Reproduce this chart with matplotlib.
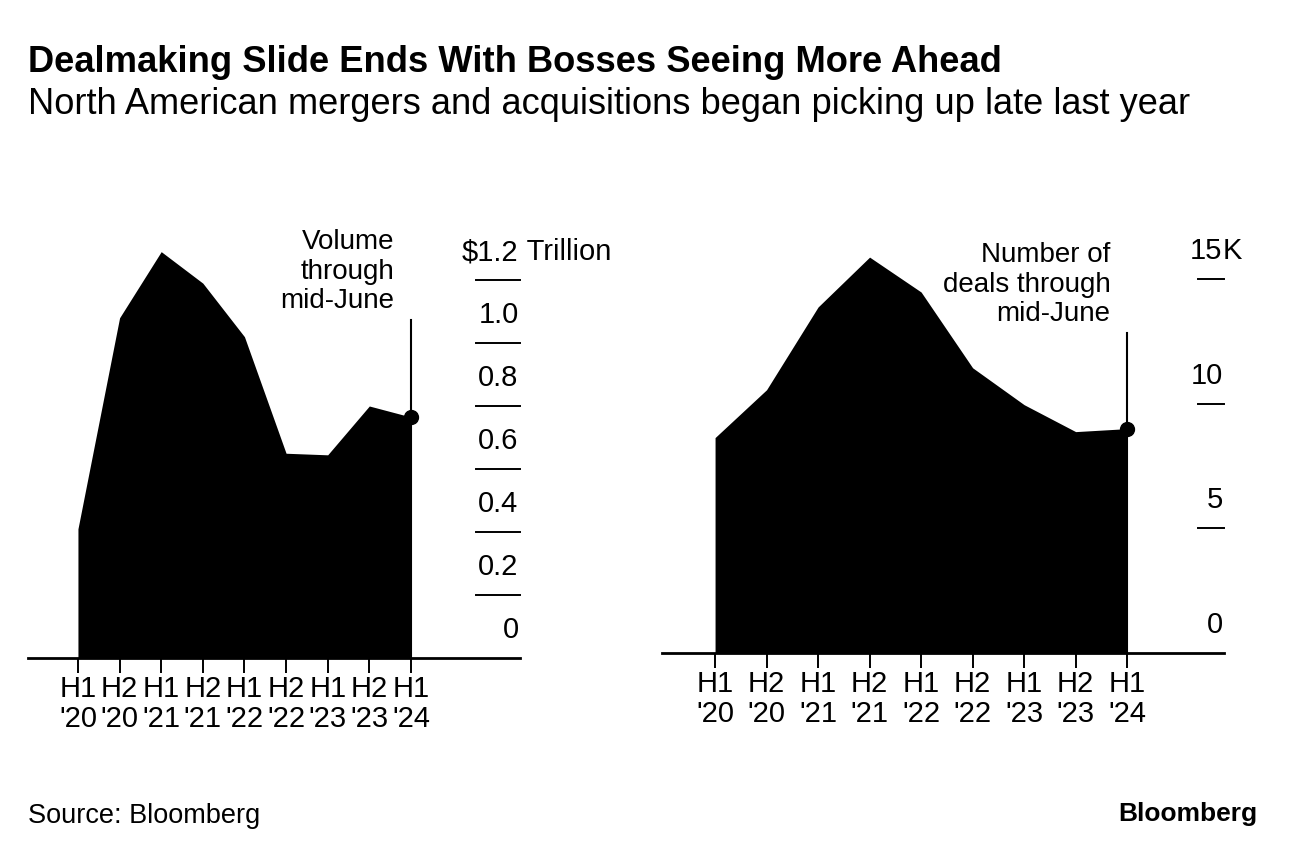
import matplotlib
matplotlib.use("Agg")
import matplotlib.pyplot as plt
import matplotlib.transforms as mtransforms

plt.rcParams['font.family'] = ['Liberation Sans', 'DejaVu Sans']

periods = ["H1\n'20", "H2\n'20", "H1\n'21", "H2\n'21", "H1\n'22", "H2\n'22", "H1\n'23", "H2\n'23", "H1\n'24"]
volume_trillion = [0.41, 1.08, 1.29, 1.19, 1.02, 0.65, 0.645, 0.80, 0.765]
deals_thousand = [8.64, 10.56, 13.88, 15.88, 14.48, 11.44, 9.96, 8.88, 9.0]

vol_ticks = [0, 0.2, 0.4, 0.6, 0.8, 1.0, 1.2]
vol_tick_labels = ["0", "0.2", "0.4", "0.6", "0.8", "1.0", "$1.2"]
deal_ticks = [0, 5, 10, 15]
deal_tick_labels = ["0", "5", "10", "15"]

title = "Dealmaking Slide Ends With Bosses Seeing More Ahead"
subtitle = "North American mergers and acquisitions began picking up late last year"

W, H = 1296, 858
fig = plt.figure(figsize=(W / 100, H / 100), dpi=100)


def px_axes(x0, x1, ybot, ytop):
    return fig.add_axes([x0 / W, (H - ybot) / H, (x1 - x0) / W, (ybot - ytop) / H])


def draw_panel(ax, values, ticks, tick_labels, unit_suffix, xlim, ylim, tick_x0, annot, line_top, fs):
    x = list(range(len(values)))
    ax.fill_between(x, 0, values, color='black', linewidth=0, zorder=2)
    ax.set_xlim(*xlim)
    ax.set_ylim(*ylim)
    for s in ax.spines.values():
        s.set_visible(False)
    ax.axhline(0, color='black', lw=2.0, zorder=3, clip_on=False)
    ax.set_yticks([])
    ax.set_xticks(x)
    ax.set_xticklabels(periods, fontsize=fs, linespacing=1.1)
    ax.tick_params(axis='x', length=11, width=1.4, color='black', pad=1)
    trans = mtransforms.blended_transform_factory(ax.transAxes, ax.transData)
    for t, lab in zip(ticks, tick_labels):
        if t != 0:
            ax.plot([tick_x0, 1.0], [t, t], transform=trans, color='black', lw=1.4, clip_on=False)
        ax.annotate(lab, xy=(1.0, t), xycoords=trans, xytext=(-1, 10), textcoords='offset points',
                    ha='right', va='bottom', fontsize=fs)
    top = ticks[-1]
    ax.annotate(unit_suffix, xy=(1.0, top), xycoords=trans, xytext=(-1, 10), textcoords='offset points',
                ha='left', va='bottom', fontsize=fs)
    last = len(values) - 1
    ax.plot([last, last], [0, line_top], color='black', lw=1.5, zorder=4, clip_on=False)
    ax.plot([last], [values[-1]], 'o', color='black', markersize=10, zorder=5, clip_on=False)
    ax.annotate(annot, xy=(last, line_top), xycoords='data', xytext=(-12, 4), textcoords='offset points',
                ha='right', va='bottom', fontsize=fs - 1, linespacing=1.18)


fs = 21
# Left panel: volume
axL = px_axes(28, 520, 658, 230)
draw_panel(axL, volume_trillion, vol_ticks, vol_tick_labels, " Trillion",
           xlim=(-1.2, 10.62), ylim=(0, (658 - 230) / 315.0), tick_x0=(476 - 28) / 492.0,
           annot="Volume\nthrough\nmid-June", line_top=(658 - 320) / 315.0, fs=fs)

# Right panel: number of deals
axR = px_axes(662, 1224, 653, 230)
draw_panel(axR, deals_thousand, deal_ticks, deal_tick_labels, "K",
           xlim=(-1.03, 9.88), ylim=(0, (653 - 230) / 24.93), tick_x0=(1198 - 662) / 562.0,
           annot="Number of\ndeals through\nmid-June", line_top=(653 - 333) / 24.93, fs=fs)

fig.text(28 / W, 1 - 62 / H, title, fontsize=26.2, fontweight='bold', ha='left', va='center')
fig.text(28 / W, 1 - 104 / H, subtitle, fontsize=26.1, ha='left', va='center')
fig.text(28 / W, 1 - 816 / H, "Source: Bloomberg", fontsize=19.5, ha='left', va='center')
fig.text(1257 / W, 1 - 814 / H, "Bloomberg", fontsize=19, fontweight='bold', ha='right', va='center')

fig.savefig("out.png", dpi=100)
